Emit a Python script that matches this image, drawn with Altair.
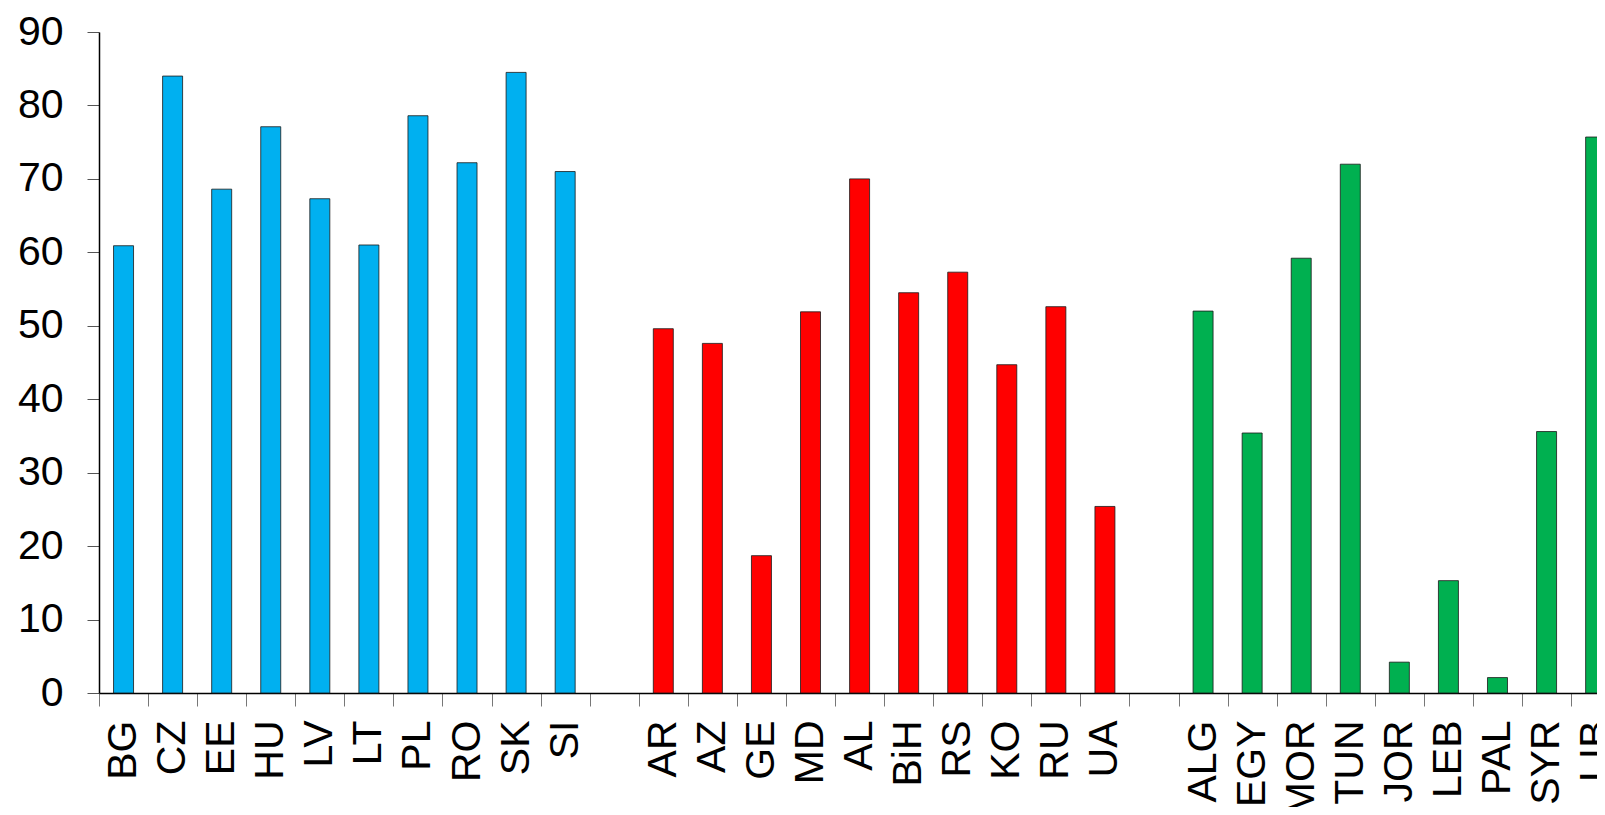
import altair as alt
import pandas as pd

# Categories (with two empty slots separating the groups)
cee = ["BG", "CZ", "EE", "HU", "LV", "LT", "PL", "RO", "SK", "SI"]
cee_vals = [60.9, 84.0, 68.6, 77.1, 67.3, 61.0, 78.6, 72.2, 84.5, 71.0]

east = ["AR", "AZ", "GE", "MD", "AL", "BiH", "RS", "KO", "RU", "UA"]
east_vals = [49.6, 47.6, 18.7, 51.9, 70.0, 54.5, 57.3, 44.7, 52.6, 25.4]

south = ["ALG", "EGY", "MOR", "TUN", "JOR", "LEB", "PAL", "SYR", "LIB"]
south_vals = [52.0, 35.4, 59.2, 72.0, 4.2, 15.3, 2.1, 35.6, 75.7]

groups = ["cee", "east", "south"]
group_colors = ["#00B0F0", "#FF0000", "#00B050"]
y_ticks = [0, 10, 20, 30, 40, 50, 60, 70, 80, 90]

domain = cee + ["gap1"] + east + ["gap2"] + south

rows = []
for names, vals, g in [(cee, cee_vals, "cee"), (east, east_vals, "east"), (south, south_vals, "south")]:
    for n, v in zip(names, vals):
        rows.append({"country": n, "value": v, "group": g})
df = pd.DataFrame(rows)

step = 49.07
chart = alt.Chart(df).mark_bar(
    width=20, stroke="#1a1a1a", strokeWidth=1, strokeOpacity=0.8
).encode(
    x=alt.X(
        "country:N",
        sort=domain,
        scale=alt.Scale(domain=domain, range=[0, step * len(domain)], paddingInner=0, paddingOuter=0),
        axis=alt.Axis(
            title=None,
            labelAngle=-90,
            labelFontSize=41,
            labelFont="Liberation Sans",
            labelColor="black",
            labelPadding=14,
            labelExpr="indexof(datum.label, 'gap') == 0 ? '' : datum.label",
            tickBand="extent",
            tickSize=13,
            tickColor="#777777",
            domainColor="black",
            domainWidth=1.5,
            labelOverlap=False,
        ),
    ),
    y=alt.Y(
        "value:Q",
        scale=alt.Scale(domain=[0, 90], nice=False),
        axis=alt.Axis(
            title=None,
            values=y_ticks,
            labelFontSize=41,
            labelFont="Liberation Sans",
            labelColor="black",
            labelPadding=24,
            tickSize=12,
            tickColor="#555555",
            domainColor="black",
            domainWidth=1.5,
            grid=False,
        ),
    ),
    color=alt.Color("group:N", scale=alt.Scale(domain=groups, range=group_colors), legend=None),
).properties(
    width=1498,
    height=661,
    autosize=alt.AutoSizeParams(type="none"),
    padding={"left": 91, "top": 24, "right": 0, "bottom": 114},
).configure_view(stroke=None)

chart.save("out.html", embed_options={"renderer": "svg", "actions": False})
